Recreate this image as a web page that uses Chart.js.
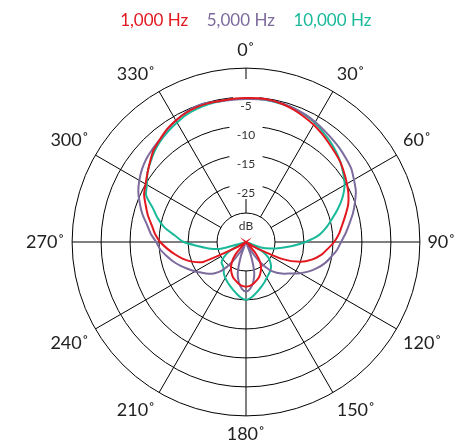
<!DOCTYPE html>
<html><head><meta charset="utf-8">
<script src="https://cdn.jsdelivr.net/npm/chart.js@4"></script>
<style>html,body{margin:0;padding:0;background:#fff}#wrap{width:462px;height:446px}</style>
</head><body><div id="wrap"><canvas id="c"></canvas></div>
<script>
const angles = [0,5,10,15,20,25,30,35,40,45,50,55,60,65,70,75,80,85,90,95,100,105,110,115,120,125,130,135,140,145,150,155,160,165,170,175,180,185,190,195,200,205,210,215,220,225,230,235,240,245,250,255,260,265,270,275,280,285,290,295,300,305,310,315,320,325,330,335,340,345,350,355];
const seriesNames = ['1,000 Hz', '5,000 Hz', '10,000 Hz'];
const seriesColors = ['#e3171f', '#7d6b9d', '#19b99a'];
// radius in ring units (ring 1 = "dB" circle, ring 6 = outer circle)
const hz1000 = [4.97,4.98,4.97,4.92,4.85,4.76,4.67,4.56,4.45,4.35,4.26,4.14,4.02,3.9,3.75,3.55,3.37,3.22,3.04,2.82,2.62,2.35,2.0,1.4,0.4,0,0,0.1,0.55,0.85,1.04,1.18,1.3,1.38,1.46,1.52,1.54,1.52,1.46,1.38,1.3,1.18,1.04,0.85,0.58,0.1,0,0,0.35,1.63,1.98,2.25,2.48,2.72,2.96,3.15,3.3,3.5,3.68,3.88,4.0,4.15,4.32,4.5,4.62,4.75,4.84,4.91,4.95,4.96,4.95,4.96];
const hz5000 = [4.93,4.94,4.95,4.94,4.9,4.85,4.78,4.7,4.63,4.57,4.5,4.43,4.3,4.18,4.0,3.82,3.62,3.45,3.28,3.15,2.98,2.82,2.62,2.4,2.15,1.89,1.7,1.5,1.25,0.85,0.4,0.05,0.5,1.1,1.42,1.62,1.71,1.62,1.42,1.1,0.5,0.05,0.4,0.85,1.28,1.52,1.7,1.85,2.03,2.2,2.4,2.6,2.78,2.97,3.1,3.3,3.47,3.7,3.9,4.1,4.25,4.38,4.48,4.55,4.62,4.73,4.84,4.93,4.99,4.98,4.93,4.93];
const hz10000 = [4.95,4.95,4.94,4.92,4.9,4.83,4.75,4.63,4.52,4.4,4.26,4.1,3.93,3.68,3.38,3.07,2.8,2.5,2.05,1.6,1.2,0.88,0.55,0.05,0.65,0.95,1.1,1.22,1.3,1.36,1.43,1.52,1.61,1.71,1.82,1.93,2.0,1.93,1.82,1.71,1.61,1.52,1.43,1.33,1.2,1.14,1.1,0.95,0.72,0.3,0.05,0.9,1.3,1.65,2.15,2.45,2.85,3.15,3.42,3.8,3.95,4.15,4.3,4.45,4.57,4.67,4.76,4.85,4.9,4.93,4.94,4.95];
const ringLabels = ['', 'dB', '-25', '-15', '-10', '-5', ''];
const angleLabelStep = 30;

const spokes = {
  id: 'spokes',
  beforeDraw(chart) {
    const s = chart.scales.r, ctx = chart.ctx;
    ctx.save();
    ctx.strokeStyle = '#000';
    ctx.lineWidth = 1;
    angles.forEach((a, i) => {
      if (a % angleLabelStep) return;
      const p0 = s.getPointPositionForValue(i, 1);
      const p1 = s.getPointPositionForValue(i, s.max);
      ctx.beginPath(); ctx.moveTo(p0.x, p0.y); ctx.lineTo(p1.x, p1.y); ctx.stroke();
    });
    ctx.restore();
  }
};

const series = [hz1000, hz5000, hz10000];
new Chart(document.getElementById('c'), {
  type: 'radar',
  data: {
    labels: angles,
    datasets: series.map((d, i) => ({
      label: seriesNames[i], data: d, borderColor: seriesColors[i], backgroundColor: seriesColors[i],
      borderWidth: 2, pointRadius: 0, pointHoverRadius: 0, fill: false, tension: 0.25
    }))
  },
  options: {
    responsive: true, maintainAspectRatio: false, animation: false,
    layout: { padding: { top: 2, left: 21, right: 0, bottom: -8 } },
    plugins: {
      tooltip: { enabled: false },
      legend: {
        position: 'top',
        labels: {
          boxWidth: 0, boxHeight: 0, padding: 10,
          font: { family: 'Lato', size: 17 },
          generateLabels: (chart) => chart.data.datasets.map((d, i) => ({
            text: d.label, fontColor: d.borderColor, fillStyle: 'rgba(0,0,0,0)',
            strokeStyle: 'rgba(0,0,0,0)', lineWidth: 0, hidden: false, datasetIndex: i
          }))
        }
      }
    },
    scales: {
      r: {
        min: 0, max: 6,
        grid: { color: '#000', lineWidth: 1, circular: true },
        angleLines: { display: false },
        ticks: {
          stepSize: 1, color: '#333', backdropColor: '#fff',
          backdropPadding: { top: 12, bottom: 9, left: 6, right: 6 },
          showLabelBackdrop: (c) => !c.tick || (c.tick.value >= 2 && c.tick.value <= 5),
          font: (c) => ({ family: 'Lato', size: 12, lineHeight: (c.tick && c.tick.value === 1) ? 1.1 : 0.72 }),
          callback: (v) => ['', ringLabels[v]]
        },
        pointLabels: {
          color: '#222', padding: -9,
          font: { family: 'Lato', size: 18 },
          callback: (label) => (label % angleLabelStep === 0 ? label + '˚' : '')
        }
      }
    }
  },
  plugins: [spokes]
});
</script></body></html>
